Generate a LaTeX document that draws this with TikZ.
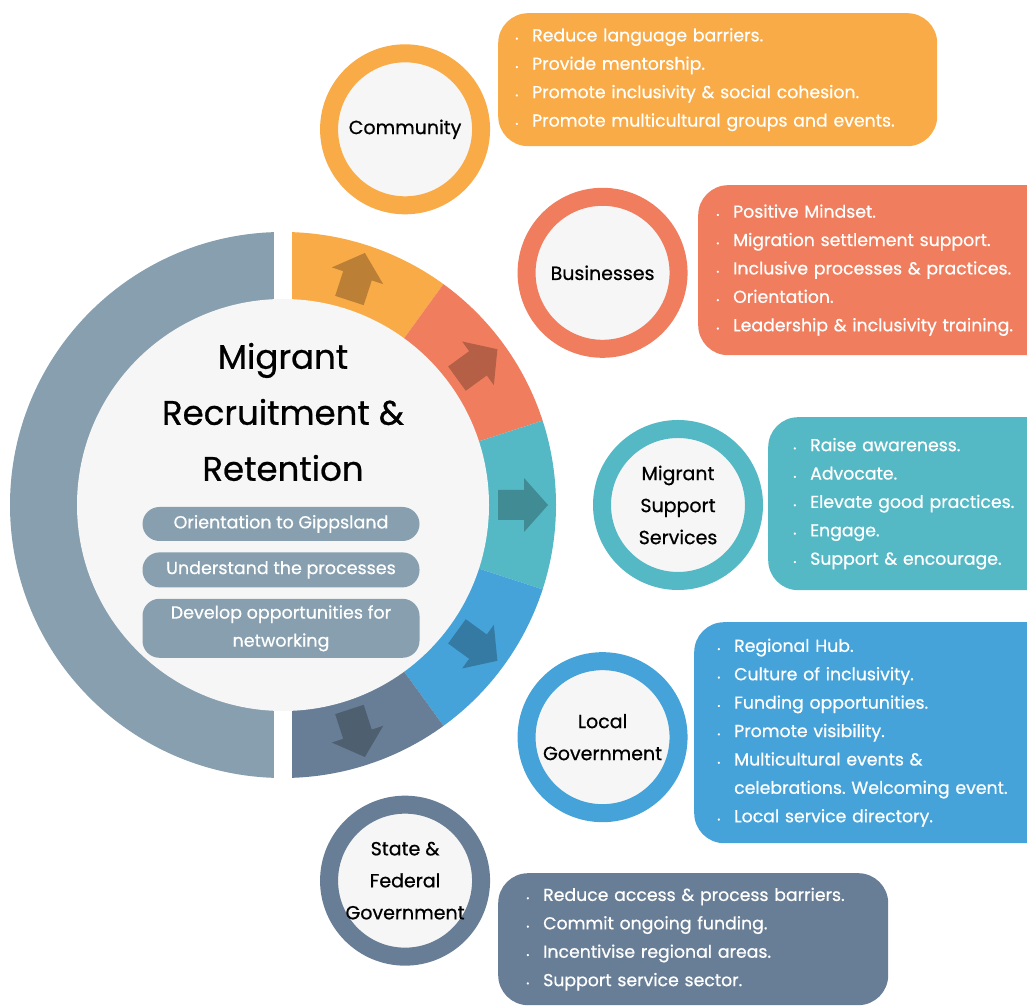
\documentclass[tikz,border=0pt]{standalone}
\usepackage{fontspec}
\setmainfont{Poppins}
\newfontfamily\medfont{Poppins}[FakeBold=0.7]
\usetikzlibrary{positioning}

\definecolor{cOrange}{HTML}{F9AB47}
\definecolor{cCoral}{HTML}{F07E5E}
\definecolor{cTeal}{HTML}{55B9C5}
\definecolor{cBlue}{HTML}{45A3D9}
\definecolor{cSlate}{HTML}{687E96}
\definecolor{cGray}{HTML}{879FAE}
\definecolor{paper}{HTML}{F6F6F6}
\newcommand\itm{\makebox[17pt][l]{\fontsize{8}{8}\selectfont\textbullet}}

\begin{document}
\frenchspacing
\begin{tikzpicture}[x=1pt,y=1pt,
 sat/.style={circle,draw=#1,line width=18pt,fill=paper,minimum size=152pt,inner sep=0pt,
   align=center,text=black,font=\medfont\fontsize{19}{32}\selectfont},
 infobox/.style={fill=#1,rounded corners=30pt,anchor=north west,text=white,align=left,
   font=\medfont\fontsize{17.3}{28.4}\selectfont},
 pill/.style={fill=cGray,rounded corners=17pt,text=white,minimum width=277pt,inner sep=0pt,
   align=center,font=\medfont\fontsize{17.5}{28}\selectfont}]
\useasboundingbox (0,0) rectangle (1027,1008);
\coordinate (hub) at (283,503);
% ring: grey half and five coloured parts
\fill[cGray] (hub) ++(90:273) arc[start angle=90,end angle=270,radius=273] -- cycle;
\foreach \a/\c in {90/cOrange,54/cCoral,18/cTeal,-18/cBlue,-54/cSlate}
  \fill[\c] (hub) -- ++(\a:273) arc[start angle=\a,end angle=\a-36,radius=273] -- cycle;
\fill[white] (274,220) rectangle (292,790);
\fill[paper] (hub) circle[radius=206];
\foreach \a/\c in {72/cOrange,36/cCoral,0/cTeal,-36/cBlue,-72/cSlate}
  \fill[\c!75!black,shift={(hub)},rotate=\a]
    (215,-15) -- (241,-15) -- (241,-27) -- (265,0) -- (241,27) -- (241,15) -- (215,15) -- cycle;

\node[font=\medfont\fontsize{34}{56}\selectfont,align=center] (title) at (283,596)
  {Migrant\\Recruitment \&\\Retention};
\node[pill,minimum height=34pt] (orient) at (281,484) {Orientation to Gippsland};
\node[pill,minimum height=35pt,below=11pt of orient] (understand) {Understand the processes};
\node[pill,minimum height=59pt,below=11pt of understand] (develop) {Develop opportunities for\\networking};

% stakeholders
\node[sat=cOrange] (community) at ([shift={(72:395)}]hub) {Community};
\node[sat=cCoral] (business) at ([shift={(36:395)}]hub) {Businesses};
\node[sat=cTeal] (support) at ([shift={(0:395)}]hub) {Migrant\\Support\\Services};
\node[sat=cBlue] (localgov) at ([shift={(-36:395)}]hub) {Local\\Government};
\node[sat=cSlate] (stategov) at ([shift={(-72:395)}]hub) {State \&\\Federal\\Government};

\node[infobox=cOrange,inner xsep=17pt,text width=405pt,minimum height=133pt] (commbox) at (498,995)
  {\itm Reduce language barriers.\\\itm Provide mentorship.\\\itm Promote inclusivity \& social cohesion.\\\itm Promote multicultural groups and events.};
\node[infobox=cCoral,inner xsep=18pt,text width=340pt,minimum height=170pt] (busbox) at (698,823)
  {\itm Positive Mindset.\\\itm Migration settlement support.\\\itm Inclusive processes \& practices.\\\itm Orientation.\\\itm Leadership \& inclusivity training.};
\node[infobox=cTeal,inner xsep=25pt,text width=300pt,minimum height=173pt] (supbox) at (768,591)
  {\itm Raise awareness.\\\itm Advocate.\\\itm Elevate good practices.\\\itm Engage.\\\itm Support \& encourage.};
\node[infobox=cBlue,inner xsep=23pt,text width=340pt,minimum height=221pt] (locbox) at (694,386)
  {\itm Regional Hub.\\\itm Culture of inclusivity.\\\itm Funding opportunities.\\\itm Promote visibility.\\\itm Multicultural events \&\\\hspace*{17pt}celebrations. Welcoming event.\\\itm Local service directory.};
\node[infobox=cSlate,inner xsep=28pt,text width=334pt,minimum height=132pt] (statebox) at (498,135)
  {\itm Reduce access \& process barriers.\\\itm Commit ongoing funding.\\\itm Incentivise regional areas.\\\itm Support service sector.};
\end{tikzpicture}
\end{document}
